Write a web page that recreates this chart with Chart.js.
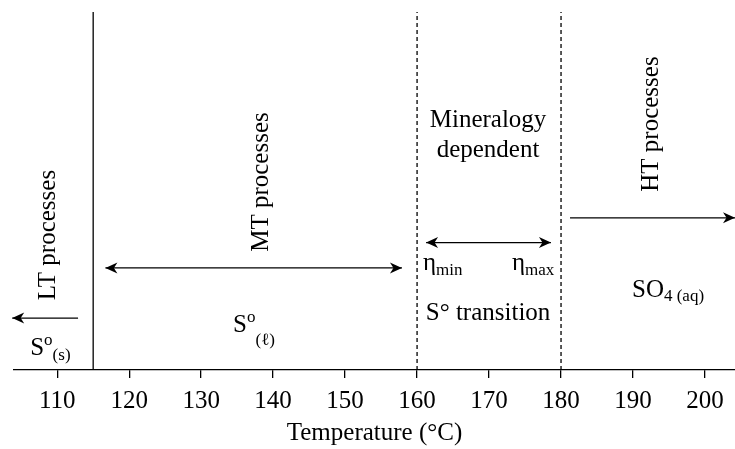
<!DOCTYPE html>
<html>
<head>
<meta charset="utf-8">
<script src="https://cdn.jsdelivr.net/npm/chart.js@4/dist/chart.umd.min.js"></script>
<style>
  html, body { margin: 0; padding: 0; background: #fff; }
</style>
</head>
<body>
<canvas id="chart" width="735" height="449"></canvas>
<script>
const FONT = '"Liberation Serif", "Times New Roman", serif';

// temperature axis (°C)
const tempRange = [104, 204.17];
const tempTicks = [110, 120, 130, 140, 150, 160, 170, 180, 190, 200];

// regime boundaries (°C): melting point, then mineralogy-dependent window
const solidBoundary = [115];
const dashedBoundaries = [160, 180];

// process arrows: [from, to] in °C, and height on a 0-100 frame
const ltArrow = [112.9, 103.75];
const mtArrow = [116.7, 157.9];
const etaArrow = [161.25, 178.6];
const htArrow = [181.25, 204.17];
const arrowLevels = [14.5, 28.5, 35.6, 42.5];

// labels, anchored in the same units
const rotatedLabels = [
  { text: 'LT processes', x: 109.72, y: 37.7 },
  { text: 'MT processes', x: 139.31, y: 52.5 },
  { text: 'HT processes', x: 193.47, y: 68.7 }
];
const centeredLabels = [
  { text: 'Mineralogy', x: 169.86, y: 67.9 },
  { text: 'dependent', x: 169.86, y: 59.5 },
  { text: 'S\u00B0 transition', x: 169.86, y: 14.0 }
];
const richLabels = [
  { x: 106.25, y: 4.2,  parts: [['S', 25, 0], ['o', 17, -10], ['(s)', 17, 5]] },
  { x: 134.44, y: 10.6, parts: [['S', 25, 0], ['o', 17, -10], ['(\u2113)', 17, 13]] },
  { x: 189.86, y: 20.4, parts: [['SO', 25, 0], ['4 (aq)', 17, 4]] },
  { x: 160.83, y: 27.9, parts: [['\u03B7', 25, 0], ['min', 17, 5]] },
  { x: 173.19, y: 27.9, parts: [['\u03B7', 25, 0], ['max', 17, 5]] }
];

function vline(t, dashed) {
  return {
    data: [{ x: t, y: 0 }, { x: t, y: 100 }],
    borderColor: '#000',
    borderWidth: 1.3,
    borderDash: dashed ? [4, 3] : [],
    pointRadius: 0,
    clip: false
  };
}

function arrow(span, level, heads) {
  return {
    data: [{ x: span[0], y: level }, { x: span[1], y: level }],
    borderColor: '#000',
    borderWidth: 1.3,
    pointRadius: 0,
    clip: false,
    heads: heads
  };
}

function drawHead(ctx, tip, from) {
  const ang = Math.atan2(tip.y - from.y, tip.x - from.x);
  ctx.save();
  ctx.translate(tip.x, tip.y);
  ctx.rotate(ang);
  ctx.beginPath();
  ctx.moveTo(0, 0);
  ctx.lineTo(-12, -5.5);
  ctx.lineTo(-8.5, 0);
  ctx.lineTo(-12, 5.5);
  ctx.closePath();
  ctx.fillStyle = '#000';
  ctx.fill();
  ctx.restore();
}

const annotations = {
  id: 'annotations',
  afterDatasetsDraw(chart) {
    const { ctx, scales: { x, y } } = chart;

    chart.data.datasets.forEach((ds, i) => {
      if (!ds.heads) return;
      const pts = chart.getDatasetMeta(i).data;
      drawHead(ctx, pts[1], pts[0]);
      if (ds.heads === 'both') drawHead(ctx, pts[0], pts[1]);
    });

    ctx.save();
    ctx.fillStyle = '#000';
    ctx.textBaseline = 'alphabetic';
    ctx.font = '25px ' + FONT;

    rotatedLabels.forEach(l => {
      ctx.save();
      ctx.translate(x.getPixelForValue(l.x), y.getPixelForValue(l.y));
      ctx.rotate(-Math.PI / 2);
      ctx.textAlign = 'center';
      ctx.fillText(l.text, 0, 0);
      ctx.restore();
    });

    ctx.textAlign = 'center';
    centeredLabels.forEach(l => {
      ctx.fillText(l.text, x.getPixelForValue(l.x), y.getPixelForValue(l.y));
    });

    ctx.textAlign = 'left';
    richLabels.forEach(l => {
      let px = x.getPixelForValue(l.x);
      const py = y.getPixelForValue(l.y);
      l.parts.forEach(([t, size, dy]) => {
        ctx.font = size + 'px ' + FONT;
        ctx.fillText(t, px, py + dy);
        px += ctx.measureText(t).width;
      });
    });
    ctx.restore();
  }
};

new Chart(document.getElementById('chart'), {
  type: 'line',
  data: {
    datasets: [
      ...solidBoundary.map(t => vline(t, false)),
      ...dashedBoundaries.map(t => vline(t, true)),
      arrow(ltArrow, arrowLevels[0], 'end'),
      arrow(mtArrow, arrowLevels[1], 'both'),
      arrow(etaArrow, arrowLevels[2], 'both'),
      arrow(htArrow, arrowLevels[3], 'end')
    ]
  },
  options: {
    responsive: false,
    devicePixelRatio: 1,
    animation: false,
    layout: { padding: { left: 14, right: 0, top: 12, bottom: 0 } },
    plugins: { legend: { display: false }, tooltip: { enabled: false } },
    scales: {
      x: {
        type: 'linear',
        min: tempRange[0],
        max: tempRange[1],
        afterBuildTicks: s => { s.ticks = tempTicks.map(v => ({ value: v })); },
        afterFit: s => { s.height = 79; },
        border: { color: '#000', width: 1.3 },
        grid: { drawOnChartArea: false, tickLength: 8, color: '#000', lineWidth: 1.3 },
        ticks: {
          color: '#000',
          font: { family: FONT, size: 25 },
          padding: 8,
          maxRotation: 0,
          autoSkip: false
        },
        title: {
          display: true,
          text: 'Temperature (\u00B0C)',
          color: '#000',
          font: { family: FONT, size: 25 },
          padding: { top: 0, bottom: 1 }
        }
      },
      y: { display: false, min: 0, max: 100 }
    }
  },
  plugins: [annotations]
});
</script>
</body>
</html>
